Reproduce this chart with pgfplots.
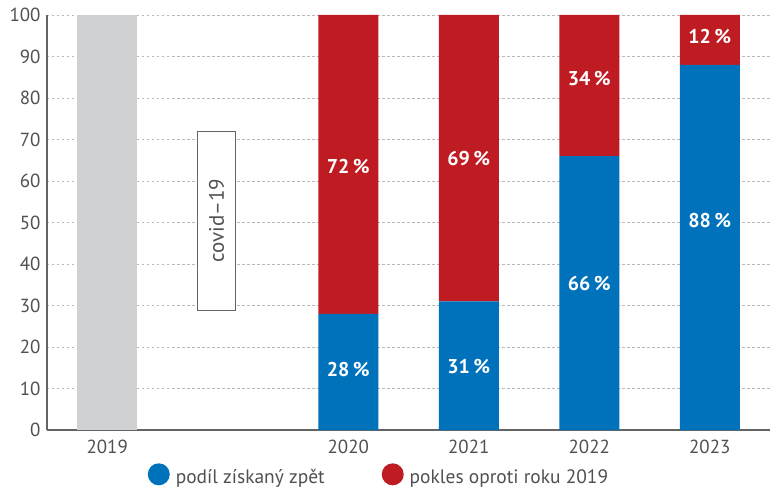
\documentclass[border=0pt]{standalone}
\usepackage{pgfplots}
\pgfplotsset{compat=1.18}
\usepackage{fontspec}
\setmainfont{PT Sans}
\definecolor{cblue}{RGB}{0,114,188}
\definecolor{cred}{RGB}{190,27,35}
\definecolor{cgray}{RGB}{208,209,211}
\definecolor{ctext}{RGB}{80,80,80}
\definecolor{caxis}{RGB}{100,100,100}
\tikzset{barlbl/.style={text=white, font=\fontsize{20}{22}\selectfont\bfseries}}
\begin{document}
\begin{tikzpicture}
\begin{axis}[
    scale only axis,
    width=723bp, height=415bp,
    ybar stacked,
    bar width=60bp,
    xmin=-0.5, xmax=5.5,
    ymin=0, ymax=100,
    xtick={0,2,3,4,5},
    xticklabels={2019,2020,2021,2022,2023},
    ytick={0,10,...,100},
    major tick length=0pt,
    axis x line*=bottom, axis y line*=left,
    axis line style={caxis, line width=1.2bp, -},
    ymajorgrids,
    major grid style={gray!55, dash pattern=on 2.5bp off 2.5bp, line width=0.7bp},
    tick label style={font=\fontsize{19}{21}\selectfont, text=ctext},
    xticklabel style={yshift=-7bp},
    yticklabel style={xshift=-3bp},
    /pgf/number format/assume math mode=true,
    legend style={draw=none, fill=none, at={(0.135,-0.075)}, anchor=north west,
        legend columns=2, font=\fontsize{19.5}{21}\selectfont, text=ctext,
        /tikz/every odd column/.append style={column sep=4bp},
        /tikz/every even column/.append style={column sep=55bp}},
    legend cell align=left,
]
\addplot[fill=cblue, draw=none,
    legend image code/.code={\fill[cblue] (11bp,0.3em) circle (11bp);}]
    coordinates {(0,0) (2,28) (3,31) (4,66) (5,88)};
\addplot[fill=cred, draw=none,
    legend image code/.code={\fill[cred] (11bp,0.3em) circle (11bp);}]
    coordinates {(0,0) (2,72) (3,69) (4,34) (5,12)};
\addplot[fill=cgray, draw=none]
    coordinates {(0,100) (2,0) (3,0) (4,0) (5,0)};
\legend{podíl získaný zpět, pokles oproti roku 2019}
\coordinate (b20) at (axis cs:2,14.5);
\coordinate (b21) at (axis cs:3,15.3);
\coordinate (b22) at (axis cs:4,35.4);
\coordinate (b23) at (axis cs:5,50.4);
\coordinate (r20) at (axis cs:2,63.4);
\coordinate (r21) at (axis cs:3,65.5);
\coordinate (r22) at (axis cs:4,84.6);
\coordinate (r23) at (axis cs:5,94.7);
\coordinate (cv1) at (axis cs:0.75,28.7);
\coordinate (cv2) at (axis cs:1.067,72);
\coordinate (cvm) at (axis cs:0.908,50.5);
\end{axis}
\node[barlbl] at (b20) {28\,\%};
\node[barlbl] at (b21) {31\,\%};
\node[barlbl] at (b22) {66\,\%};
\node[barlbl] at (b23) {88\,\%};
\node[barlbl] at (r20) {72\,\%};
\node[barlbl] at (r21) {69\,\%};
\node[barlbl] at (r22) {34\,\%};
\node[barlbl] at (r23) {12\,\%};
\draw[caxis, fill=white, line width=1bp] (cv1) rectangle (cv2);
\node[rotate=90, text=ctext, font=\fontsize{21}{23}\selectfont] at (cvm) {covid–19};
\path (current axis.south west) ++(-47bp,-60bp) (current axis.north east) ++(4bp,15bp);
\end{tikzpicture}
\end{document}
